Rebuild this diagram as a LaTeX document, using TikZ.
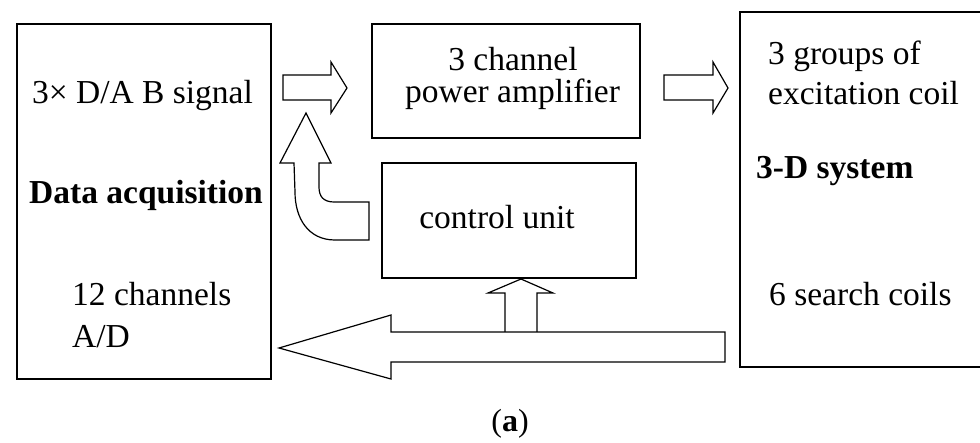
\documentclass[tikz,border=0pt]{standalone}
\usepackage{fontspec}
\setmainfont{Liberation Serif}
\begin{document}
\begin{tikzpicture}[x=1pt,y=-1pt,
  box/.style={draw, line width=1.7pt, inner sep=0pt, outer sep=0pt},
  blk/.style={draw, line width=1.2pt, line join=miter, fill=white},
  txt/.style={inner sep=0pt, font=\fontsize{33.5}{31}\selectfont},
  captxt/.style={inner sep=0pt, font=\fontsize{32}{32}\selectfont}]
\useasboundingbox[fill=white] (0,0) rectangle (980,442);
\clip (0,0) rectangle (980,442);

% boxes
\node[box, minimum width=254pt, minimum height=355pt] (daq) at (144,201.5) {};
\node[box, minimum width=268pt, minimum height=114pt] (amp) at (506,81) {};
\node[box, minimum width=254pt, minimum height=115pt] (ctl) at (509,220.5) {};
\node[box, minimum width=250pt, minimum height=355pt] (sys) at (865,189.5) {};

% texts in left box
\node[txt, anchor=base] (t1) at (142.5,103) {3× D/A B signal};
\node[txt, anchor=base, font=\fontsize{33.5}{31}\selectfont\bfseries] (t2) at (146,203) {Data acquisition};
\node[txt, anchor=base west] (t3) at (72,305) {12 channels};
\node[txt, anchor=base west] (t4) at (72,347) {A/D};

% texts in amplifier box
\node[txt, anchor=base] (t5) at (513,70) {3 channel};
\node[txt, anchor=base] (t6) at (512.5,102) {power amplifier};

% control unit
\node[txt, anchor=base] (t7) at (497,228) {control unit};

% right box
\node[txt, anchor=base west] (t8) at (768,64) {3 groups of};
\node[txt, anchor=base west] (t9) at (768,104) {excitation coil};
\node[txt, anchor=base west, font=\fontsize{33.5}{31}\selectfont\bfseries] (t10) at (756,178) {3-D system};
\node[txt, anchor=base west] (t11) at (769,305) {6 search coils};

% caption
\node[captxt, anchor=base] (capa) at (510,431) {(\textbf{a})};

% block arrow: DAQ -> amplifier
\draw[blk] (283,75) -- (331,75) -- (331,62) -- (347,88) -- (331,113) -- (331,100) -- (283,100) -- cycle;
% block arrow: amplifier -> system
\draw[blk] (664,75) -- (713,75) -- (713,62) -- (728,88) -- (713,113) -- (713,100) -- (664,100) -- cycle;

% curved arrow: control unit -> DAQ
\draw[blk] (306,113) -- (331,163) -- (319,163) -- (319,187)
  .. controls (319,196) and (323,202) .. (334,202) -- (369,202) -- (369,240) -- (335,240)
  .. controls (308,240) and (295,218) .. (295,192) -- (294,163) -- (280,163) -- cycle;

% small up arrow: bottom bus -> control unit
\draw[blk, fill=none] (505,333) -- (505,293) -- (488,293) -- (521,279) -- (553,293) -- (537,293) -- (537,333);

% big left arrow: system -> DAQ
\draw[blk] (725,332) -- (391,332) -- (391,315) -- (279,348) -- (391,379) -- (391,362) -- (725,362) -- cycle;
\end{tikzpicture}
\end{document}
